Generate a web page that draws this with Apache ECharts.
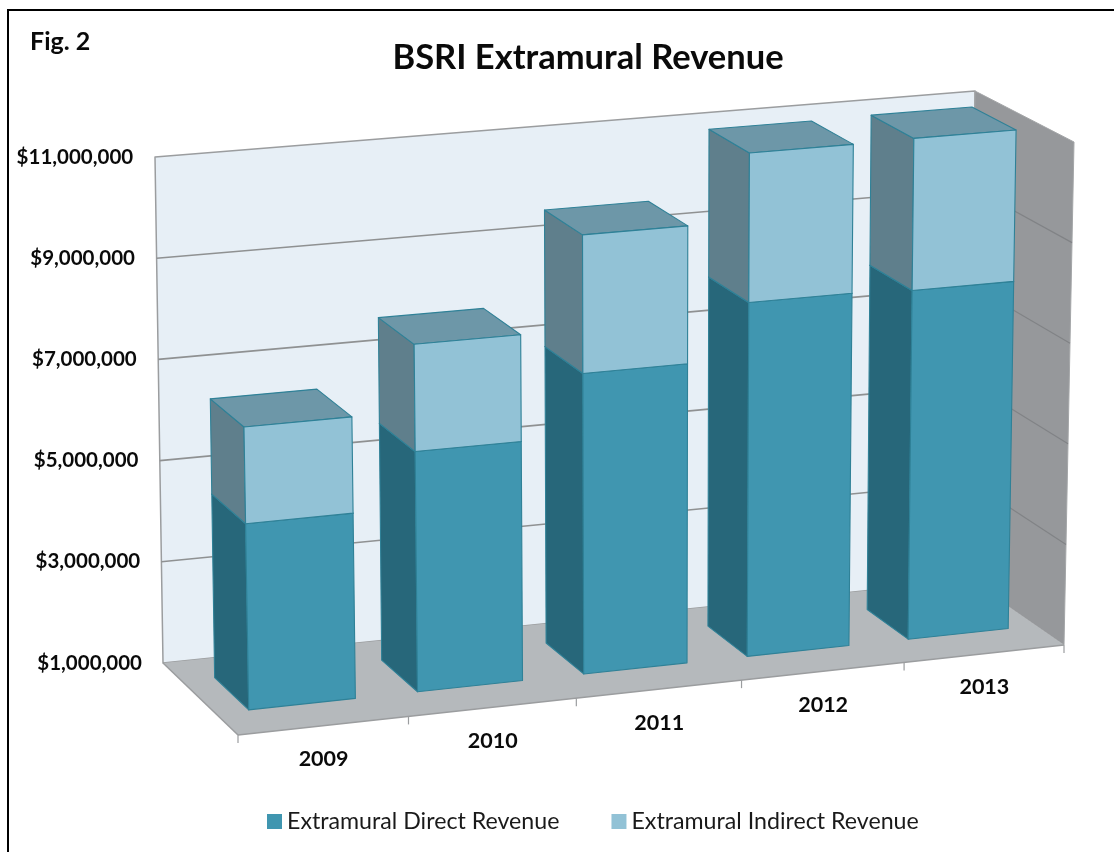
<!DOCTYPE html>
<html>
<head>
<meta charset="utf-8">
<title>BSRI Extramural Revenue</title>
<style>html,body{margin:0;padding:0;background:#fff}#chart{width:1114px;height:852px}</style>
<script src="https://cdn.jsdelivr.net/npm/echarts@6/dist/echarts.min.js"></script>
</head>
<body>
<div id="chart"></div>
<script>
const categories = ['2009', '2010', '2011', '2012', '2013'];
const directRevenue = [4600000, 5680000, 6900000, 8000000, 7950000];
const indirectRevenue = [1870000, 2090000, 2720000, 2960000, 3030000];
const tickValues = [1000000, 3000000, 5000000, 7000000, 9000000, 11000000];

const GRID = { left: 163, top: 157, width: 807, height: 506 };
// Corners of the oblique box: front (w = 0) and back (w = 1) planes.
const BOX = {
  frontBottom: [[238, 735], [1064, 645]],
  frontTop: [[228, 212], [1074, 142]],
  backBottom: [[163, 663], [970, 580]],
  backTop: [[155, 157], [975, 91]]
};
const BAR_RATIO = 0.63, BAR_SHIFT = 0.002, BAR_FRONT = 0.3, BAR_BACK = 0.75;
const BAR_EDGE = '#2f8197';

const mix = (a, b, t) => [a[0] + (b[0] - a[0]) * t, a[1] + (b[1] - a[1]) * t];

// Maps box coordinates (across, up, depth) to pixels with a mild perspective across.
function project(u, v, w) {
  const U = u + 0.04 * u * (1 - u);
  const fb = mix(BOX.frontBottom[0], BOX.frontBottom[1], U);
  const ft = mix(BOX.frontTop[0], BOX.frontTop[1], U);
  const bb = mix(BOX.backBottom[0], BOX.backBottom[1], U);
  const bt = mix(BOX.backTop[0], BOX.backTop[1], U);
  return mix(mix(fb, ft, v), mix(bb, bt, v), w);
}
const toV = (api, value) => (GRID.top + GRID.height - api.coord([0, value])[1]) / GRID.height;
const toU = (api, cat) => (api.coord([cat, 0])[0] - GRID.left) / GRID.width;

const poly = (points, fill, stroke, lineWidth) => ({
  type: 'polygon',
  shape: { points },
  style: { fill, stroke: stroke || null, lineWidth: lineWidth || 1, lineJoin: 'round' }
});
const line = (a, b, stroke, lineWidth) => ({
  type: 'line',
  shape: { x1: a[0], y1: a[1], x2: b[0], y2: b[1] },
  style: { stroke, lineWidth }
});

function renderBox(params, api) {
  const kids = [];
  const edge = '#9b9d9f';
  kids.push(poly([project(0, 0, 1), project(1, 0, 1), project(1, 1, 1), project(0, 1, 1)], '#e7eff6', edge, 1.5));
  kids.push(poly([project(1, 0, 1), project(1, 0, 0), project(1, 1, 0), project(1, 1, 1)], '#96989b', '#a4a6a8', 1));
  kids.push(poly([project(0, 0, 1), project(1, 0, 1), project(1, 0, 0), project(0, 0, 0)], '#b5b9bc', null));
  kids.push(line(project(0, 0, 1), project(0, 0, 0), edge, 1.5));
  kids.push(line(project(0, 0, 0), project(1, 0, 0), edge, 1.5));
  tickValues.slice(1, -1).forEach(function (t) {
    const v = toV(api, t);
    kids.push(line(project(0, v, 1), project(1, v, 1), '#8f9192', 1.6));
    kids.push(line(project(1, v, 1), project(1, v, 0), '#818386', 1.2));
  });
  for (let i = 0; i <= categories.length; i++) {
    const p = project(i / categories.length, 0, 0);
    kids.push(line(p, [p[0], p[1] + 8], '#9b9d9f', 1.2));
  }
  return { type: 'group', children: kids };
}

function barRenderer(frontFill, sideFill, topFill) {
  return function (params, api) {
    const half = api.size([1, 0])[0] * BAR_RATIO / 2 / GRID.width;
    const c = toU(api, api.value(0)) + BAR_SHIFT;
    const u0 = c - half, u1 = c + half;
    const v0 = toV(api, api.value(1)), v1 = toV(api, api.value(2));
    const kids = [
      poly([project(u0, v0, BAR_BACK), project(u0, v0, BAR_FRONT), project(u0, v1, BAR_FRONT), project(u0, v1, BAR_BACK)], sideFill, BAR_EDGE, 1.1),
      poly([project(u0, v1, BAR_BACK), project(u1, v1, BAR_BACK), project(u1, v1, BAR_FRONT), project(u0, v1, BAR_FRONT)], topFill, BAR_EDGE, 1.1),
      poly([project(u0, v0, BAR_FRONT), project(u1, v0, BAR_FRONT), project(u1, v1, BAR_FRONT), project(u0, v1, BAR_FRONT)], frontFill, BAR_EDGE, 1.1)
    ];
    return { type: 'group', children: kids };
  };
}

function renderCategoryLabel(params, api) {
  const i = api.value(0);
  const p = project(toU(api, i), 0, 0);
  return {
    type: 'text',
    style: {
      x: p[0], y: p[1] + 33.5, text: categories[i],
      fill: '#0a0a0a', font: 'bold 21.5px Lato', align: 'center', verticalAlign: 'middle'
    }
  };
}

const rich = {};
tickValues.forEach(function (t, i) {
  const v = (t - tickValues[0]) / (tickValues[tickValues.length - 1] - tickValues[0]);
  rich['t' + i] = {
    fontFamily: 'Lato', fontWeight: 'bold', fontSize: 20.5, color: '#0a0a0a',
    padding: [0, (GRID.left - project(0, v, 1)[0]) * 1.1, 0, 0]
  };
});
const money = v => '$' + v.toLocaleString('en-US');

const chart = echarts.init(document.getElementById('chart'));
chart.setOption({
  animation: false,
  backgroundColor: '#ffffff',
  title: [
    { text: 'BSRI Extramural Revenue', left: 583, top: 35, textAlign: 'center',
      textStyle: { fontFamily: 'Lato', fontWeight: 'bold', fontSize: 34.5, color: '#0a0a0a' } },
    { text: 'Fig. 2', left: 25, top: 24,
      textStyle: { fontFamily: 'Lato', fontWeight: 'bold', fontSize: 25, color: '#0a0a0a' } }
  ],
  legend: {
    data: ['Extramural Direct Revenue', 'Extramural Indirect Revenue'],
    left: 262, top: 805, itemWidth: 15, itemHeight: 15, itemGap: 52, icon: 'rect',
    textStyle: { fontFamily: 'Lato', fontSize: 23.2, color: '#1a1a1a' }
  },
  grid: { left: GRID.left, top: GRID.top, width: GRID.width, height: GRID.height },
  xAxis: { type: 'category', data: categories, show: false },
  yAxis: {
    type: 'value', min: tickValues[0], max: tickValues[tickValues.length - 1],
    axisLine: { show: false }, axisTick: { show: false }, splitLine: { show: false },
    axisLabel: {
      margin: 21,
      customValues: tickValues,
      formatter: function (v) { return '{t' + tickValues.indexOf(v) + '|' + money(v) + '}'; },
      rich: rich
    }
  },
  graphic: [{
    type: 'polyline', silent: true,
    shape: { points: [[8, 860], [8, 10], [1120, 10]] },
    style: { fill: 'none', stroke: '#000', lineWidth: 2 }
  }],
  series: [
    { type: 'custom', name: 'box', silent: true, data: [[0, 0]], renderItem: renderBox, z: 1 },
    { type: 'custom', name: 'Extramural Direct Revenue', silent: true, z: 2,
      itemStyle: { color: '#4096b0', borderColor: BAR_EDGE },
      data: categories.map((c, i) => [i, tickValues[0], directRevenue[i]]),
      renderItem: barRenderer('#4096b0', '#27677a', '#4096b0') },
    { type: 'custom', name: 'Extramural Indirect Revenue', silent: true, z: 3,
      itemStyle: { color: '#92c2d6', borderColor: BAR_EDGE },
      data: categories.map((c, i) => [i, directRevenue[i], directRevenue[i] + indirectRevenue[i]]),
      renderItem: barRenderer('#92c2d6', '#5f7f8c', '#6d97a8') },
    { type: 'custom', name: 'years', silent: true, z: 4,
      data: categories.map((c, i) => [i]), renderItem: renderCategoryLabel }
  ]
});
</script>
</body>
</html>
